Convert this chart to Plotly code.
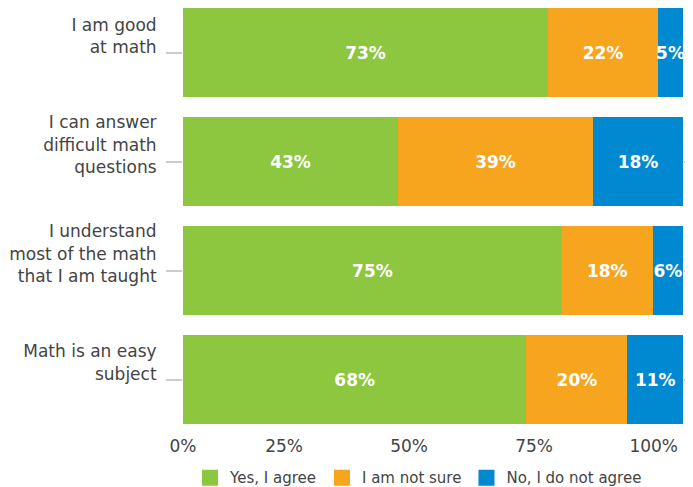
import plotly.graph_objects as go

categories = [
    "I am good<br>at math",
    "I can answer<br>difficult math<br>questions",
    "I understand<br>most of the math<br>that I am taught",
    "Math is an easy<br>subject",
]
series_names = ["Yes, I agree", "I am not sure", "No, I do not agree"]
yes_agree = [73, 43, 75, 68]
not_sure = [22, 39, 18, 20]
not_agree = [5, 18, 6, 11]
colors = ["#8dc63f", "#f7a51e", "#0089d0"]
tick_vals = [0, 25, 50, 75, 100]
tick_text = ["0%", "25%", "50%", "75%", "100%"]

FONT = "DejaVu Sans"
fig = go.Figure()
for name, vals, col in zip(series_names, [yes_agree, not_sure, not_agree], colors):
    fig.add_trace(go.Bar(
        y=categories, x=vals, name=name, orientation="h",
        marker=dict(color=col, line=dict(width=0)),
        text=[f"{v}%" for v in vals], textposition="inside",
        insidetextanchor="middle", textangle=0, constraintext="none",
        textfont=dict(color="white", size=17, family=FONT, weight="bold"),
        hoverinfo="skip", showlegend=False,
    ))
# legend entries with larger square swatches
for name, col in zip(series_names, colors):
    fig.add_trace(go.Scatter(
        x=[None], y=[None], mode="markers", name=name,
        marker=dict(symbol="square", size=16, color=col),
        hoverinfo="skip",
    ))
# empty trace so that the second (label) x axis is drawn
fig.add_trace(go.Scatter(x=[None], y=[None], xaxis="x2", yaxis="y",
                         mode="markers", showlegend=False, hoverinfo="skip"))
# empty trace so that the right-hand category tick axis is drawn
fig.add_trace(go.Scatter(x=[None] * len(categories), y=categories, xaxis="x", yaxis="y2",
                         mode="markers", showlegend=False, hoverinfo="skip"))

fig.update_layout(
    width=685, height=479,
    barmode="stack", barnorm="percent", bargap=0.18,
    plot_bgcolor="white", paper_bgcolor="white",
    margin=dict(l=175, r=10, t=0, b=53, autoexpand=False),
    font=dict(family=FONT, size=17, color="#444444"),
    legend=dict(orientation="h", x=0.014, xanchor="left", y=-0.103, yanchor="middle",
                font=dict(size=15, color="#444444"), traceorder="normal"),
    showlegend=True,
    # first tick label centred on its tick, the others end at their ticks
    xaxis=dict(range=[0, 100], tickvals=tick_vals[:1], ticktext=tick_text[:1],
               showgrid=False, zeroline=False, showline=False, ticks="",
               automargin=False),
    xaxis2=dict(range=[0, 100], overlaying="x", anchor="y", side="bottom",
                tickvals=tick_vals[1:], ticktext=tick_text[1:],
                ticklabelposition="outside left", ticklabelshift=-5,
                showgrid=False, zeroline=False, showline=False, ticks="",
                automargin=False, ticklabeloverflow="allow"),
    yaxis2=dict(range=[3.5, -0.41], overlaying="y", anchor="x", side="right",
                type="category", categoryorder="array", categoryarray=categories,
                showticklabels=False, showgrid=False, zeroline=False, showline=False,
                ticks="outside", ticklen=16, tickwidth=2, tickcolor="#cccccc",
                automargin=False),
)
fig.update_yaxes(selector=dict(overlaying=None))
fig.layout.yaxis.update(range=[3.5, -0.41], showgrid=False, zeroline=False,
                        ticks="outside", ticklen=16, tickwidth=2, tickcolor="#cccccc",
                        showline=False, automargin=False,
                        ticklabelstandoff=6, ticklabelshift=17)
fig.write_html("out.html")
